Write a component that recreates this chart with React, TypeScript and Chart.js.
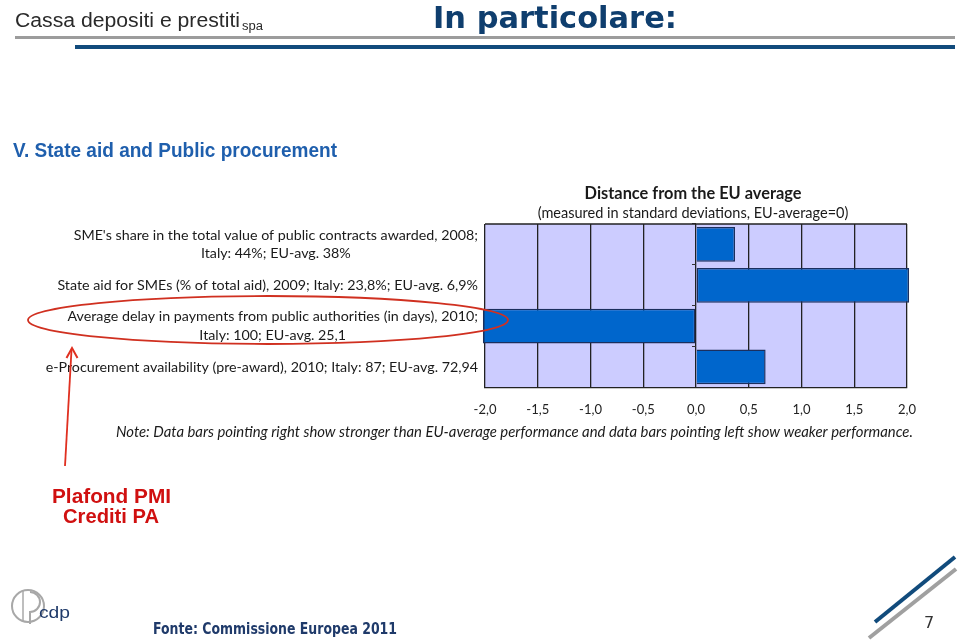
import React, { useEffect, useRef } from "react";
import { Chart, registerables } from "chart.js";

Chart.register(...registerables);

// ---- data ----
const categoryLabels: string[][] = [
  ["SME's share in the total value of public contracts awarded, 2008;", "Italy: 44%; EU-avg. 38%"],
  ["State aid for SMEs (% of total aid), 2009; Italy: 23,8%; EU-avg. 6,9%"],
  ["Average delay in payments from public authorities (in days), 2010;", "Italy: 100; EU-avg. 25,1"],
  ["e-Procurement availability (pre-award), 2010; Italy: 87; EU-avg. 72,94"],
];
const distanceValues: number[] = [0.37, 2.02, -2.02, 0.66];
const axisMin = -2;
const axisMax = 2;
const axisStep = 0.5;
const chartTitle = "Distance from the EU average";
const chartSubtitle = "(measured in standard deviations, EU-average=0)";
const noteText =
  "Note: Data bars pointing right show stronger than EU-average performance and data bars pointing left show weaker performance.";

const LABEL_FONT = "Lato, 'Liberation Sans', sans-serif";

function fitFont(ctx: CanvasRenderingContext2D, text: string, target: number, style: string) {
  ctx.font = `${style} 20px ${LABEL_FONT}`;
  const w = ctx.measureText(text).width;
  const size = (20 * target) / w;
  ctx.font = `${style} ${size}px ${LABEL_FONT}`;
  return size;
}

const decorPlugin = {
  id: "decor",
  beforeDraw(chart: any) {
    const { ctx, chartArea: a } = chart;
    ctx.save();
    ctx.fillStyle = "#CCCCFF";
    ctx.fillRect(a.left, a.top, a.right - a.left, a.bottom - a.top);
    ctx.restore();
  },
  afterDraw(chart: any) {
    const { ctx, chartArea: a, scales } = chart;
    ctx.save();
    // top border of plot
    ctx.strokeStyle = "#222";
    ctx.lineWidth = 1.3;
    ctx.beginPath();
    ctx.moveTo(a.left, a.top);
    ctx.lineTo(a.right, a.top);
    ctx.stroke();

    // title + subtitle centred over plot
    const cx = (a.left + a.right) / 2 - 3;
    ctx.fillStyle = "#1a1a1a";
    ctx.textAlign = "center";
    ctx.textBaseline = "alphabetic";
    fitFont(ctx, chartTitle, 217, "bold");
    ctx.fillText(chartTitle, cx, 29);
    fitFont(ctx, chartSubtitle, 311, "normal");
    ctx.fillText(chartSubtitle, cx, 48);

    // category labels (multi-line, centred block, right edge near plot)
    let widest = "";
    ctx.font = `normal 20px ${LABEL_FONT}`;
    let wmax = 0;
    categoryLabels.forEach((lines) =>
      lines.forEach((l) => {
        const w = ctx.measureText(l).width;
        if (w > wmax) {
          wmax = w;
          widest = l;
        }
      })
    );
    fitFont(ctx, widest, 433, "normal");
    const right = a.left - 7;
    const y = scales.y;
    ctx.textBaseline = "middle";
    categoryLabels.forEach((lines, i) => {
      const cy = y.getPixelForValue(i);
      const mw = Math.max(...lines.map((l) => ctx.measureText(l).width));
      const lx = right - mw / 2;
      lines.forEach((l, j) => {
        ctx.fillText(l, lx, cy + (j - (lines.length - 1) / 2) * 18.5);
      });
    });

    // note
    ctx.textAlign = "left";
    ctx.textBaseline = "alphabetic";
    fitFont(ctx, noteText, 797, "italic");
    ctx.fillText(noteText, 116, 267);
    ctx.restore();
  },
};

function ChartCanvas() {
  const ref = useRef<HTMLCanvasElement | null>(null);
  useEffect(() => {
    if (!ref.current) return;
    const chart = new Chart(ref.current, {
      type: "bar",
      data: {
        labels: categoryLabels.map((l) => l.join(" ")),
        datasets: [
          {
            data: distanceValues,
            backgroundColor: "#0066CC",
            borderColor: "#1B2F5E",
            borderWidth: 1.5,
            borderSkipped: (c: any) => (Math.abs(c.raw) > axisMax ? "middle" : "start"),
            categoryPercentage: 1,
            barPercentage: 0.85,
            clip: false,
          } as any,
        ],
      },
      options: {
        indexAxis: "y",
        responsive: false,
        animation: false,
        devicePixelRatio: 1,
        layout: { padding: { left: 485, right: 53, top: 54, bottom: 12 } },
        plugins: {
          legend: { display: false },
          tooltip: { enabled: false },
          title: { display: false },
        },
        scales: {
          x: {
            min: axisMin,
            max: axisMax,
            ticks: {
              stepSize: axisStep,
              callback: (v: any) => Number(v).toFixed(1).replace(".", ","),
              color: "#222",
              font: { family: LABEL_FONT, size: 13 },
              padding: 15,
              maxRotation: 0,
              autoSkip: false,
            },
            grid: { color: "#222", lineWidth: 1.3, drawTicks: false },
            border: { display: true, color: "#222", width: 1.3 },
          },
          y: {
            position: { x: 0 } as any,
            offset: true,
            ticks: { display: false },
            grid: { drawOnChartArea: false, tickLength: 4, color: "#333", offset: true },
            border: { display: false },
          },
        },
      } as any,
      plugins: [decorPlugin],
    });
    return () => chart.destroy();
  }, []);
  return (
    <canvas
      ref={ref}
      width={960}
      height={275}
      style={{ position: "absolute", left: 0, top: 170, width: 960, height: 275 }}
    />
  );
}

export default function App() {
  const sans = "'DejaVu Sans', Verdana, sans-serif";
  const arial = "'Liberation Sans', Arial, sans-serif";
  return (
    <div
      style={{
        position: "absolute",
        left: 0,
        top: 0,
        width: 960,
        height: 643,
        background: "#fff",
        overflow: "hidden",
      }}
    >
      <ChartCanvas />
      <svg
        width={960}
        height={643}
        style={{ position: "absolute", left: 0, top: 0, pointerEvents: "none" }}
      >
        {/* header */}
        <text x={15} y={27} fontFamily={arial} fontSize={20} fill="#2a2a2a" textLength={225} lengthAdjust="spacingAndGlyphs">
          Cassa depositi e prestiti
        </text>
        <text x={242} y={30} fontFamily={arial} fontSize={12} fill="#2a2a2a" textLength={21} lengthAdjust="spacingAndGlyphs">
          spa
        </text>
        <text x={433} y={28} fontFamily={sans} fontWeight="bold" fontSize={30} fill="#0F3E6E" textLength={244} lengthAdjust="spacingAndGlyphs">
          In particolare:
        </text>
        <rect x={15} y={36} width={940} height={3} fill="#9C9C9C" />
        <rect x={75} y={45} width={880} height={4} fill="#114B7C" />

        {/* section title */}
        <text x={13} y={157} fontFamily={arial} fontWeight="bold" fontSize={19.5} fill="#1F5FAD" textLength={324} lengthAdjust="spacingAndGlyphs">
          V. State aid and Public procurement
        </text>

        {/* highlight ellipse and arrow */}
        <ellipse cx={268} cy={320} rx={240} ry={24} fill="none" stroke="#D03020" strokeWidth={1.8} />
        <line x1={65} y1={466} x2={71.5} y2={350} stroke="#E03020" strokeWidth={1.8} />
        <polyline points="66.5,358 72,348 77.5,358" fill="none" stroke="#E03020" strokeWidth={2} />

        <text x={111.5} y={503} textAnchor="middle" fontFamily={arial} fontWeight="bold" fontSize={20} fill="#D01010" textLength={119} lengthAdjust="spacingAndGlyphs">
          Plafond PMI
        </text>
        <text x={111} y={523} textAnchor="middle" fontFamily={arial} fontWeight="bold" fontSize={20} fill="#D01010" textLength={96} lengthAdjust="spacingAndGlyphs">
          Crediti PA
        </text>

        {/* footer */}
        <circle cx={28} cy={606} r={16} fill="none" stroke="#A8A8A8" strokeWidth={2} />
        <path d="M 30 592 A 10 10 0 1 1 30 612 L 30 624" fill="none" stroke="#A8A8A8" strokeWidth={2} />
        <line x1={23} y1={591} x2={23} y2={622} stroke="#A8A8A8" strokeWidth={1.5} />
        <text x={39} y={618} fontFamily={arial} fontSize={17} fill="#1F3A6A" textLength={31} lengthAdjust="spacingAndGlyphs">
          cdp
        </text>
        <text x={153} y={634} fontFamily={sans} fontWeight="bold" fontSize={15} fill="#1F3A6A" textLength={244} lengthAdjust="spacingAndGlyphs">
          Fonte: Commissione Europea 2011
        </text>
        <line x1={875} y1={622} x2={955} y2={557} stroke="#114B7C" strokeWidth={4} />
        <line x1={869} y1={638} x2={956} y2={569} stroke="#A0A0A0" strokeWidth={4} />
        <text x={924} y={628} fontFamily={sans} fontSize={16} fill="#333">
          7
        </text>
      </svg>
    </div>
  );
}
